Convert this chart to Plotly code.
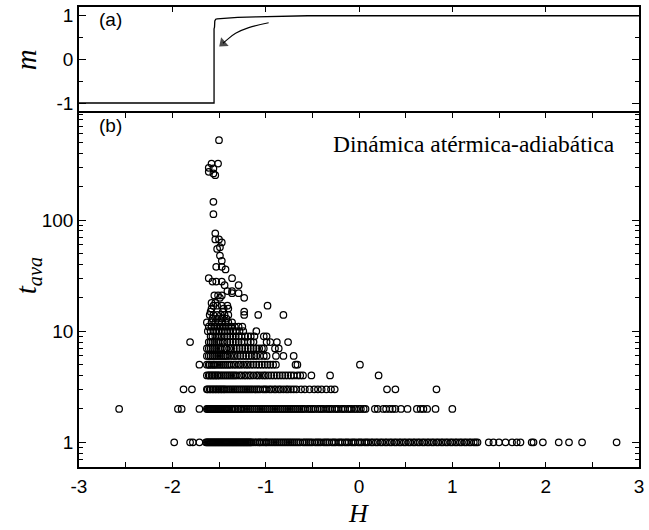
import plotly.graph_objects as go
import numpy as np

# ---------------- panel (a): magnetisation curve ----------------
m_H = [-3.0, -1.553, -1.553, -1.548, -1.545, -1.535, -1.52, -1.45, -1.30, -1.10, -0.90, -0.70, -0.55, 3.0]
m_val = [-1.0, -1.0, 0.70, 0.74, 0.88, 0.92, 0.93, 0.945, 0.96, 0.975, 0.985, 0.995, 1.0, 1.0]

arrow_H = [-0.968, -1.181, -1.322, -1.415, -1.457]
arrow_m = [0.841, 0.727, 0.598, 0.448, 0.370]

# ---------------- panel (b): avalanche durations ----------------
h_t1 = [-1.98, -1.81, -1.78, -1.71, -1.64, -1.63, -1.62, -1.61, -1.60, -1.59, -1.58, -1.57, -1.56,
        -1.55, -1.54, -1.53, -1.52, -1.51, -1.50, -1.49, -1.48, -1.47, -1.46, -1.45, -1.44, -1.43,
        -1.42, -1.41, -1.40, -1.39, -1.38, -1.37, -1.36, -1.35, -1.34, -1.33, -1.32, -1.31, -1.30,
        -1.29, -1.28, -1.27, -1.26, -1.25, -1.24, -1.23, -1.22, -1.21, -1.20, -1.19, -1.18, -1.17,
        -1.16, -1.15, -1.13, -1.11, -1.09, -1.07, -1.06, -1.04, -1.02, -1.00, -0.99, -0.97, -0.95,
        -0.93, -0.91, -0.89, -0.87, -0.85, -0.83, -0.81, -0.79, -0.77, -0.75, -0.73, -0.71, -0.69,
        -0.67, -0.65, -0.63, -0.60, -0.58, -0.56, -0.54, -0.52, -0.50, -0.47, -0.45, -0.43, -0.41,
        -0.38, -0.36, -0.34, -0.32, -0.29, -0.27, -0.25, -0.22, -0.20, -0.18, -0.15, -0.13, -0.11,
        -0.08, -0.06, -0.04, -0.01, 0.01, 0.03, 0.06, 0.08, 0.10, 0.13, 0.15, 0.18, 0.20, 0.23,
        0.25, 0.28, 0.30, 0.33, 0.35, 0.38, 0.40, 0.43, 0.45, 0.48, 0.50, 0.53, 0.55, 0.58, 0.60,
        0.63, 0.65, 0.68, 0.70, 0.73, 0.75, 0.78, 0.80, 0.83, 0.85, 0.88, 0.90, 0.93, 0.95, 0.98,
        1.00, 1.03, 1.05, 1.08, 1.10, 1.13, 1.15, 1.18, 1.20, 1.23, 1.25, 1.27,
        1.39, 1.44, 1.50, 1.57, 1.64, 1.69, 1.73, 1.85, 1.87, 1.97, 2.14, 2.25, 2.39, 2.76]
h_t2 = [-2.57, -1.94, -1.90, -1.71, -1.63, -1.62, -1.61, -1.60, -1.59, -1.58, -1.57, -1.56, -1.55,
        -1.54, -1.53, -1.52, -1.51, -1.50, -1.49, -1.48, -1.47, -1.46, -1.45, -1.44, -1.43, -1.42,
        -1.41, -1.40, -1.39, -1.37, -1.36, -1.35, -1.33, -1.32, -1.30, -1.29, -1.27, -1.26, -1.24,
        -1.22, -1.20, -1.18, -1.16, -1.14, -1.12, -1.10, -1.08, -1.06, -1.04, -1.02, -1.00, -0.98,
        -0.96, -0.94, -0.92, -0.90, -0.88, -0.86, -0.84, -0.82, -0.80, -0.78, -0.76, -0.74, -0.72,
        -0.70, -0.68, -0.66, -0.64, -0.62, -0.60, -0.58, -0.55, -0.53, -0.51, -0.49, -0.47, -0.44,
        -0.42, -0.40, -0.38, -0.35, -0.33, -0.31, -0.29, -0.26, -0.24, -0.22, -0.19, -0.17, -0.15,
        -0.12, -0.10, -0.08, -0.05, -0.03, 0.00, 0.02, 0.05, 0.07, 0.17, 0.20, 0.26, 0.29,
        0.33, 0.36, 0.39, 0.45, 0.52, 0.62, 0.66, 0.69, 0.73, 0.82, 1.00]
h_t3 = [-1.88, -1.79, -1.63, -1.62, -1.60, -1.59, -1.57, -1.56, -1.54, -1.53, -1.51, -1.50, -1.48,
        -1.47, -1.45, -1.44, -1.42, -1.40, -1.38, -1.36, -1.34, -1.32, -1.30, -1.28, -1.26, -1.24,
        -1.22, -1.20, -1.18, -1.16, -1.14, -1.12, -1.10, -1.08, -1.06, -1.03, -1.01, -0.99, -0.96,
        -0.94, -0.91, -0.89, -0.86, -0.84, -0.81, -0.78, -0.76, -0.73, -0.70, -0.67, -0.62, -0.58,
        -0.53, -0.48, -0.44, -0.40, -0.35, -0.30, -0.26, 0.30, 0.39, 0.83]
h_t4 = [-1.63, -1.61, -1.60, -1.58, -1.57, -1.55, -1.54, -1.52, -1.51, -1.49, -1.47, -1.45, -1.43,
        -1.41, -1.39, -1.37, -1.35, -1.33, -1.31, -1.28, -1.26, -1.23, -1.21, -1.18, -1.16, -1.13,
        -1.10, -1.08, -1.05, -1.02, -1.00, -0.97, -0.94, -0.91, -0.88, -0.85, -0.82, -0.79, -0.76,
        -0.73, -0.70, -0.66, -0.63, -0.60, -0.51, -0.31, 0.21]
h_t5 = [-1.71, -1.63, -1.61, -1.60, -1.58, -1.56, -1.55, -1.53, -1.51, -1.49, -1.47, -1.45, -1.43,
        -1.41, -1.39, -1.37, -1.34, -1.32, -1.29, -1.27, -1.24, -1.21, -1.19, -1.16, -1.13, -1.10,
        -1.07, -1.04, -1.01, -0.98, -0.95, -0.92, -0.89, -0.68, -0.66, 0.01]
h_t6 = [-1.63, -1.61, -1.59, -1.57, -1.55, -1.53, -1.51, -1.49, -1.47, -1.45, -1.43, -1.41, -1.38,
        -1.35, -1.33, -1.30, -1.27, -1.24, -1.21, -1.18, -1.15, -1.12, -1.10, -1.06, -1.02, -0.99,
        -0.89, -0.81, -0.70]
h_t7 = [-1.63, -1.61, -1.59, -1.57, -1.55, -1.53, -1.51, -1.49, -1.47, -1.44, -1.42, -1.39, -1.37,
        -1.34, -1.31, -1.28, -1.25, -1.22, -1.19, -1.16, -1.13, -1.10, -1.07, -1.04, -1.02, -0.90,
        -0.86]
h_t8 = [-1.81, -1.61, -1.59, -1.57, -1.55, -1.53, -1.51, -1.49, -1.46, -1.44, -1.41, -1.38, -1.35,
        -1.32, -1.29, -1.26, -1.23, -1.19, -1.16, -1.13, -0.99, -0.95, -0.88, -0.76]
h_t9 = [-1.59, -1.57, -1.54, -1.52, -1.49, -1.47, -1.44, -1.41, -1.38, -1.35, -1.32, -1.29, -1.26,
        -1.22, -1.19, -1.16, -1.12, -1.02, -0.99]
h_t10 = [-1.62, -1.59, -1.56, -1.53, -1.50, -1.47, -1.44, -1.41, -1.38, -1.35, -1.32, -1.28, -1.24,
         -1.10]

sparse_h = [-1.61, -1.58, -1.55, -1.52, -1.49, -1.46, -1.43, -1.40, -1.37, -1.33, -1.29, -1.25,
            -1.63, -1.58, -1.54, -1.50, -1.47, -1.43, -1.40, -1.36,
            -1.57, -1.52, -1.47, -1.42,
            -1.60, -1.56, -1.52, -1.48, -1.44, -1.40, -1.23, -1.08, -0.81,
            -1.59, -1.46, -1.23,
            -1.58, -1.45, -1.40,
            -1.56, -1.52, -1.47, -1.41, -0.98,
            -1.58, -1.54,
            -1.49, -1.23,
            -1.55, -1.51, -1.47,
            -1.29, -1.36,
            -1.36, -1.41,
            -1.44, -1.29,
            -1.57, -1.53, -1.47,
            -1.61, -1.36,
            -1.43, -1.53, -1.47, -1.47, -1.49, -1.52, -1.49, -1.47, -1.54, -1.50, -1.54,
            -1.56, -1.56, -1.54, -1.56, -1.61, -1.56, -1.61, -1.58, -1.51, -1.50]
sparse_t = [11] * 12 + [12] * 8 + [13] * 4 + [14] * 9 + [15] * 3 + [16] * 3 + [17] * 5 + [18] * 2 + \
           [20] * 2 + [21] * 3 + [22] * 2 + [23] * 2 + [26] * 2 + [28] * 3 + [30] * 2 + \
           [36, 38, 38, 43, 48, 55, 57, 63, 67, 67, 76,
            113, 146, 254, 263, 272, 292, 296, 323, 323, 524]

rows = {1: h_t1, 2: h_t2, 3: h_t3, 4: h_t4, 5: h_t5, 6: h_t6, 7: h_t7, 8: h_t8, 9: h_t9, 10: h_t10}
H_all, T_all = [], []
for t, hs in rows.items():
    H_all += hs
    T_all += [t] * len(hs)
H_all += sparse_h
T_all += sparse_t

x_ticks = [-3, -2, -1, 0, 1, 2, 3]
x_minor = [-2.5, -1.5, -0.5, 0.5, 1.5, 2.5]
y_ticks = [1, 10, 100]
y_minor = [0.6, 0.7, 0.8, 0.9] + [d * 10 ** k for k in range(3) for d in range(2, 10)]
m_ticks = [-1, 0, 1]
m_minor = [-0.5, 0.5]

# ---------------- figure ----------------
L, R, T, B = 79, 6, 5, 63
W, Hh = 649, 530
ph = Hh - T - B
split = (467 - 111.5) / ph

fig = go.Figure()
fig.add_trace(go.Scatter(x=H_all, y=T_all, mode='markers',
                         marker=dict(symbol='circle-open', size=6.5, color='black',
                                     line=dict(width=1.25, color='black')),
                         xaxis='x', yaxis='y', hoverinfo='skip'))
fig.add_trace(go.Scatter(x=m_H, y=m_val, mode='lines', line=dict(color='black', width=1.3),
                         xaxis='x2', yaxis='y2'))
fig.add_trace(go.Scatter(x=arrow_H, y=arrow_m, mode='lines+markers',
                         line=dict(color='black', width=1.1, shape='spline'),
                         marker=dict(symbol='triangle-up', size=[0, 0, 0, 0, 10], color='black',
                                     angleref='previous', line=dict(width=0)),
                         xaxis='x2', yaxis='y2'))

tick_font = dict(family='Liberation Sans, Arial', size=19, color='black')
common = dict(showgrid=False, zeroline=False, showline=True, linecolor='black', linewidth=1.6,
              tickcolor='black', tickwidth=1.2)

fig.update_layout(
    width=W, height=Hh, margin=dict(l=L, r=R, t=T, b=B),
    paper_bgcolor='white', plot_bgcolor='white', showlegend=False,
    xaxis=dict(domain=[0, 1], anchor='y', range=[-3, 3], tickvals=x_ticks,
               ticktext=[str(v) for v in x_ticks], ticks='inside', ticklen=5, mirror='ticks',
               minor=dict(tickvals=x_minor, ticks='inside', ticklen=5, tickcolor='black'),
               ticklabelstandoff=1, tickfont=tick_font, **common),
    yaxis=dict(domain=[0, split], anchor='x', type='log',
               range=[np.log10(0.6), np.log10(920)], tickvals=y_ticks,
               ticktext=[str(v) for v in y_ticks], ticks='inside', ticklen=7, mirror='ticks',
               minor=dict(tickvals=y_minor, ticks='inside', ticklen=4, tickcolor='black'),
               tickfont=tick_font, **common),
    xaxis2=dict(domain=[0, 1], anchor='y2', range=[-3, 3], side='top', tickvals=x_ticks[1:-1],
                ticks='inside', ticklen=5, showticklabels=False, mirror=False, **common),
    yaxis2=dict(domain=[split, 1], anchor='x2', range=[-1.23, 1.2], tickvals=m_ticks,
                ticktext=['-1', '0', '1'], ticks='inside', ticklen=7, mirror='ticks',
                minor=dict(tickvals=m_minor, ticks='inside', ticklen=4, tickcolor='black'),
                tickfont=tick_font, **common),
)

def px(xp):
    return (xp - L) / (W - L - R)

def py(yp):
    return (Hh - B - yp) / ph

serif = 'Liberation Serif, Times New Roman'
annos = [
    dict(x=px(111), y=py(18), text='(a)', font=dict(family='Liberation Sans, Arial', size=19)),
    dict(x=px(111), y=py(124), text='(b)', font=dict(family='Liberation Sans, Arial', size=19)),
    dict(x=px(621), y=py(143), text='Dinámica atérmica-adiabática', xanchor='right',
         font=dict(family=serif, size=23.5)),
    dict(x=px(25), y=py(58), text='<i>m</i>', textangle=-90, font=dict(family=serif, size=29)),
    dict(x=px(27), y=py(275), text='<i>t</i><sub><i>ava</i></sub>', textangle=-90,
         font=dict(family=serif, size=29)),
    dict(x=px(360), y=py(529), text='<i>H</i>', yanchor='bottom', borderpad=0,
         font=dict(family=serif, size=26)),
]
for a in annos:
    a.setdefault('xanchor', 'center')
    a.setdefault('yanchor', 'middle')
    fig.add_annotation(xref='paper', yref='paper', showarrow=False, font_color='black', **a)

fig.write_html('out.html')
